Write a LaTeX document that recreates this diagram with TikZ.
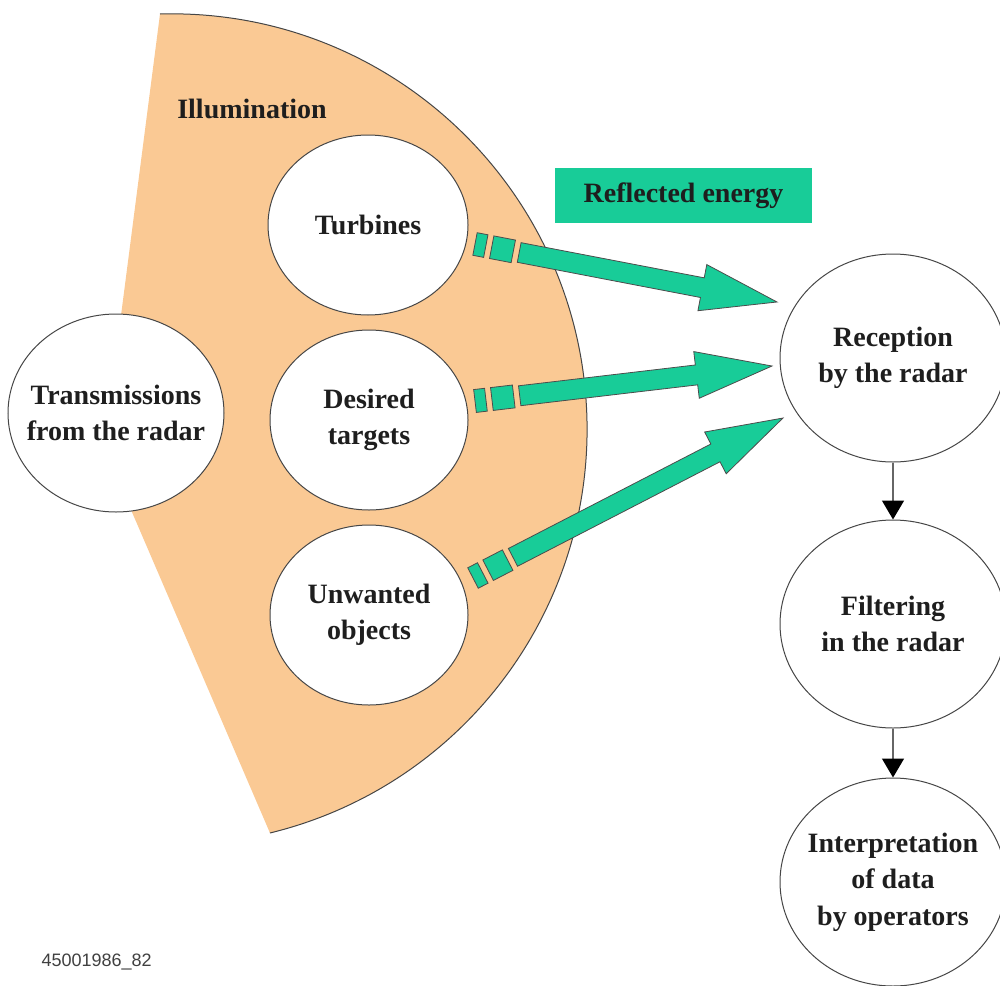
\documentclass[tikz,border=0pt]{standalone}
\usepackage{fontspec}
\setmainfont{Liberation Serif}
\newfontfamily\codefont{Liberation Sans}
\usetikzlibrary{arrows.meta,calc,shapes.geometric}
\definecolor{illumfill}{RGB}{250,201,148}
\definecolor{beamgreen}{RGB}{24,204,152}
\definecolor{edgegray}{RGB}{70,70,70}
\definecolor{txtdark}{RGB}{30,30,30}

\tikzset{
  lbl/.style={font=\fontsize{28}{36.5}\selectfont\bfseries, align=center, text=txtdark},
  bubble/.style={lbl, ellipse, draw=edgegray, line width=1pt, fill=white, inner sep=-40pt},
  beam/.style={fill=beamgreen, draw=black!70, line width=0.8pt, line join=miter},
  flow/.style={draw=black!60, line width=1.5pt, -{Triangle[width=22pt,length=19pt,color=black]}}
}

\newcommand\beamarrow[2]{%
  \path (#2); \pgfgetlastxy{\beamBx}{\beamBy}%
  \path (#1); \pgfgetlastxy{\beamAx}{\beamAy}%
  \pgfmathsetmacro\beamang{atan2(\beamBy-\beamAy,\beamBx-\beamAx)}%
  \pgfmathsetmacro\beamlen{veclen(\beamBx-\beamAx,\beamBy-\beamAy)}%
  \begin{scope}[shift={(#1)}, rotate=\beamang, x=1pt, y=1pt]
    \filldraw[beam] (0,-11.5) rectangle (11,11.5);
    \filldraw[beam] (17,-11.5) rectangle (39,11.5);
    \filldraw[beam] (45,-10) -- ({\beamlen-76},-10) -- ({\beamlen-76},-23.5)
      -- (\beamlen,0) -- ({\beamlen-76},23.5) -- ({\beamlen-76},10) -- (45,10) -- cycle;
  \end{scope}}

\begin{document}
\begin{tikzpicture}[x=1pt,y=-1pt]
\useasboundingbox (0,0) rectangle (1000,985);

% illumination sector
\coordinate (apex) at (104,447);
\coordinate (arcA) at (160,14);
\fill[illumfill] (apex) -- (arcA) arc[start angle=-91.6, end angle=76.3, radius=415.5] -- cycle;
\draw[edgegray, line width=1pt] (arcA) arc[start angle=-91.6, end angle=76.3, radius=415.5];

\node[lbl] (illum) at (252,109) {Illumination};

% circles
\node[bubble, minimum width=216pt, minimum height=198pt] (trans) at (116,413) {Transmissions\\from the radar};
\node[bubble, minimum width=200pt, minimum height=180pt] (turb) at (368,225) {Turbines};
\node[bubble, minimum width=198pt, minimum height=180pt] (des) at (369,420) {Desired\\targets};
\node[bubble, minimum width=198pt, minimum height=180pt] (unw) at (369,615) {Unwanted\\objects};

\node[bubble, minimum width=226pt, minimum height=208pt] (rec) at (893,358) {Reception\\by the radar};
\node[bubble, minimum width=226pt, minimum height=208pt] (filt) at (893,624) {Filtering\\in the radar};
\node[bubble, minimum width=226pt, minimum height=208pt] (interp) at (893,882) {Interpretation\\of data\\by operators};

% reflected energy label
\node[lbl, fill=beamgreen, minimum width=257pt, minimum height=55pt, inner sep=0pt] (refl) at (683.5,195.5) {Reflected energy};

% beam arrows
\coordinate (b1s) at (475,244);
\coordinate (b1e) at (777,302);
\coordinate (b2s) at (475,401);
\coordinate (b2e) at (772,366);
\coordinate (b3s) at (473,578);
\coordinate (b3e) at (783,418);
\beamarrow{b1s}{b1e}
\beamarrow{b2s}{b2e}
\beamarrow{b3s}{b3e}

% flow arrows
\draw[flow] (rec.south) -- (filt.north);
\draw[flow] (filt.south) -- (interp.north);

\node[font=\codefont\fontsize{18}{18}\selectfont, text=black!75, anchor=west] (code) at (38,962) {45001986\_82};
\end{tikzpicture}
\end{document}
